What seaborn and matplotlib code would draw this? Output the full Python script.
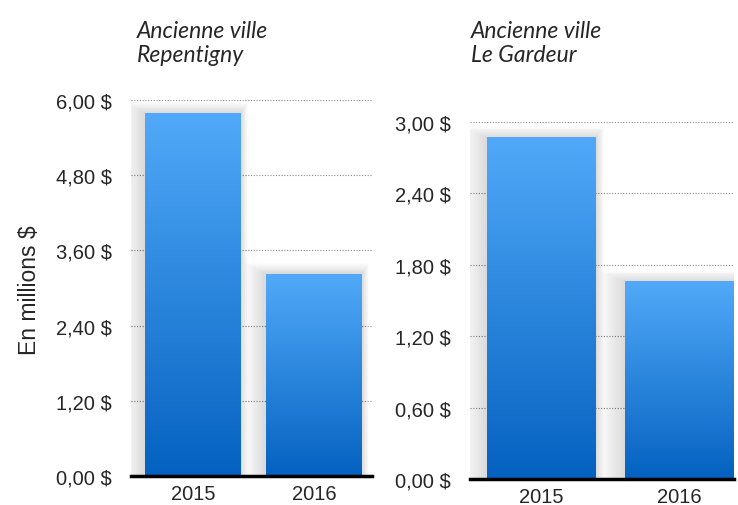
import numpy as np
import pandas as pd
import seaborn as sns
import matplotlib.pyplot as plt
from matplotlib.colors import LinearSegmentedColormap

# ---------------- data ----------------
annees = ['2015', '2016']
repentigny = [5.79, 3.22]
le_gardeur = [2.87, 1.66]
titres = ['Ancienne ville\nRepentigny', 'Ancienne ville\nLe Gardeur']
ticks_rep = [0, 1.2, 2.4, 3.6, 4.8, 6.0]
ticks_gar = [0, 0.6, 1.2, 1.8, 2.4, 3.0]

sns.set_style('white')
plt.rcParams['font.family'] = ['Liberation Sans', 'DejaVu Sans']

fig = plt.figure(figsize=(7.38, 5.06), dpi=100)
ax1 = fig.add_axes([131/738, 1-477/506, 241/738, 376/506])
ax2 = fig.add_axes([470/738, 1-480/506, 264/738, 357/506])

degrade = LinearSegmentedColormap.from_list('bleu', ['#0561c0', '#2a86dc', '#52a9f9'])
grad = np.linspace(0, 1, 256).reshape(-1, 1)


def fmt(v):
    return f"{v:.2f}".replace('.', ',') + ' $'


def panneau(ax, vals, ticks, xlim, titre, tx):
    df = pd.DataFrame({'annee': annees, 'valeur': vals})
    sns.barplot(data=df, x='annee', y='valeur', ax=ax, width=0.79, color='#2a86dc')
    for p in ax.patches:
        x0, w, h = p.get_x(), p.get_width(), p.get_height()
        p.set_visible(False)
        # ombre douce
        for k in range(12):
            d = 0.01 * (k + 1)
            ax.add_patch(plt.Rectangle((x0 - d * 1.5, 0), w + d * 2.0, h + d * ticks[-1] * 0.25,
                                       color='k', alpha=0.01, lw=0, zorder=1.5))
        ax.imshow(grad, extent=[x0, x0 + w, 0, h], origin='lower', cmap=degrade,
                  aspect='auto', zorder=2)
    ax.set_xlim(*xlim)
    ax.set_ylim(0, ticks[-1])
    ax.set_yticks(ticks)
    ax.set_yticklabels([fmt(t) for t in ticks], fontsize=14.5)
    ax.tick_params(axis='y', length=0, pad=14)
    ax.tick_params(axis='x', length=0, pad=6, labelsize=14.5)
    ax.set_xlabel('')
    ax.set_ylabel('')
    for s in ['top', 'right', 'left']:
        ax.spines[s].set_visible(False)
    ax.spines['bottom'].set_color('black')
    ax.spines['bottom'].set_linewidth(2.5)
    ax.spines['bottom'].set_zorder(3)
    ax.set_axisbelow(True)
    for t in ticks[1:]:
        ax.axhline(t, color='#8a8a8a', lw=0.8, linestyle=(0, (1, 1.5)), zorder=0.5)
    fig.text(tx, 0.958, titre, fontsize=16.5, style='italic', family=['Lato', 'DejaVu Sans'],
             va='top', ha='left', linespacing=1.15)


panneau(ax1, repentigny, ticks_rep, (-0.51, 1.48), titres[0], 137/738)
panneau(ax2, le_gardeur, ticks_gar, (-0.52, 1.40), titres[1], 471/738)

fig.text(30/738, 1-290/506, 'En millions $', rotation=90, fontsize=16.5,
         ha='center', va='center')

fig.savefig('out.png', dpi=100)
